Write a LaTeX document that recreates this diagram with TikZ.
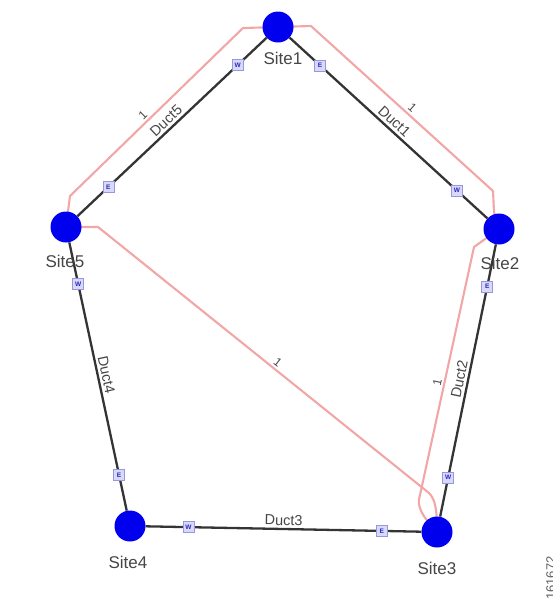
\documentclass[tikz,border=0pt]{standalone}
\usepackage{fontspec}
\setmainfont{Liberation Sans}
\pgfdeclarelayer{bg}
\pgfsetlayers{bg,main}
\definecolor{siteblue}{RGB}{0,0,238}
\definecolor{routepink}{RGB}{242,166,166}
\definecolor{ductgray}{RGB}{52,52,52}
\definecolor{portfill}{RGB}{216,216,248}
\definecolor{portdraw}{RGB}{150,150,225}
\definecolor{porttext}{RGB}{40,40,190}
\definecolor{labelgray}{RGB}{70,70,70}
\begin{document}
\begin{tikzpicture}[x=1pt,y=-1pt,
 site/.style={circle,fill=siteblue,minimum size=31pt,inner sep=0pt},
 sitelabel/.style={font=\fontsize{17}{19}\selectfont,text=labelgray,inner sep=0pt},
 duct/.style={draw=ductgray,line width=2.3pt},
 route/.style={draw=routepink,line width=2.1pt,line join=round},
 ductlabel/.style={font=\fontsize{14.5}{16}\selectfont,text=labelgray,sloped,above,inner sep=2.5pt},
 routelabel/.style={font=\fontsize{12}{14}\selectfont,text=labelgray,sloped,above,inner sep=2pt},
 port/.style={rectangle,draw=portdraw,fill=portfill,line width=0.6pt,minimum size=11pt,inner sep=0pt,font=\fontsize{6.5}{6.5}\selectfont\bfseries,text=porttext}]
\useasboundingbox (0,0) rectangle (553,603);

% sites
\node[site] (s1) at (278,27) {};
\node[site] (s2) at (499,229) {};
\node[site] (s3) at (437,532) {};
\node[site] (s4) at (130,526) {};
\node[site] (s5) at (66,227) {};
\node[sitelabel] (l1) at (283,58) {Site1};
\node[sitelabel] (l2) at (500,263) {Site2};
\node[sitelabel] (l3) at (437,568) {Site3};
\node[sitelabel] (l4) at (128,562) {Site4};
\node[sitelabel] (l5) at (65,261) {Site5};

% route way points
\coordinate (r1) at (70,196);
\coordinate (r2) at (243,28);
\coordinate (r3) at (311,26);
\coordinate (r4) at (493,191);
\coordinate (r4b) at (494,212);
\coordinate (r5) at (474,247);
\coordinate (r6) at (420,495);
\coordinate (r7) at (98,227);
\coordinate (r8) at (429,493);

\begin{pgfonlayer}{bg}
 \draw[route] (s5.center) -- (r1) -- node[routelabel,pos=0.45]{1} (r2) -- (s1.center);
 \draw[route] (s1.center) -- (r3) -- node[routelabel,pos=0.53]{1} (r4) -- (r4b) -- (s2.center);
 \draw[route] (s3.center) .. controls (422,516) and (416,506) .. (r6) -- node[routelabel,pos=0.45]{1} (r5) -- (s2.center);
 \draw[route] (s5.center) -- (r7) -- node[routelabel,pos=0.53]{1} (r8) .. controls (436,500) and (437,512) .. (s3.center);

 \draw[duct] (s5) -- node[ductlabel]{Duct5} (s1);
 \draw[duct] (s1) -- node[ductlabel]{Duct1} (s2);
 \draw[duct] (s3) -- node[ductlabel]{Duct2} (s2);
 \draw[duct] (s5) -- node[ductlabel]{Duct4} (s4);
 \draw[duct] (s4) -- node[ductlabel]{Duct3} (s3);
\end{pgfonlayer}

% ports
\path (s5.center) -- node[port,pos=0.2]{E} node[port,pos=0.81]{W} (s1.center);
\path (s1.center) -- node[port,pos=0.19]{E} node[port,pos=0.81]{W} (s2.center);
\path (s2.center) -- node[port,pos=0.19]{E} node[port,pos=0.82]{W} (s3.center);
\path (s5.center) -- node[port,pos=0.19]{W} node[port,pos=0.83]{E} (s4.center);
\path (s4.center) -- node[port,pos=0.19]{W} node[port,pos=0.82]{E} (s3.center);

\node[rotate=90,font=\fontsize{13}{15}\selectfont,text=labelgray!85] (code) at (551,578) {161672};
\end{tikzpicture}
\end{document}
